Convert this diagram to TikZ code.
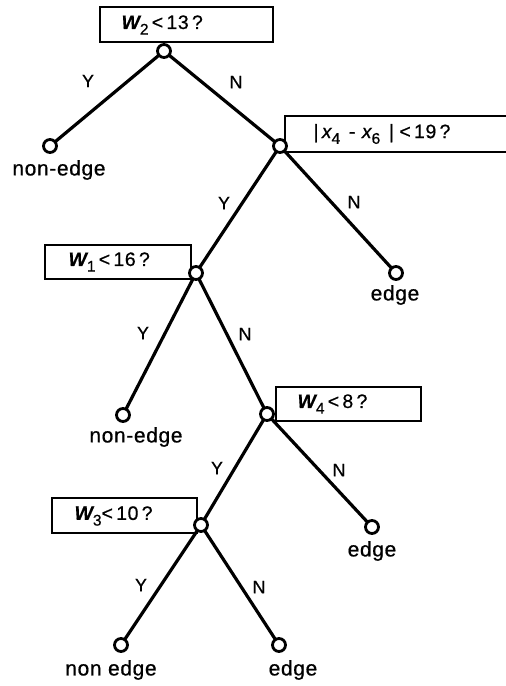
\documentclass[tikz,border=0pt]{standalone}
\usepackage{fontspec}
\setmainfont{Liberation Sans}[UprightFeatures={FakeBold=0.6},ItalicFeatures={FakeBold=0.6},BoldItalicFeatures={FakeBold=0.3},LetterSpace=3]
\begin{document}
\begin{tikzpicture}[x=1pt,y=-1pt,
  dot/.style={circle,draw,fill=white,line width=2.8pt,minimum size=13pt,inner sep=0pt},
  branch/.style={line width=3.2pt},
  qbox/.style={draw,line width=2.5pt},
  yn/.style={font=\fontsize{18}{18}\selectfont},
  leaf/.style={font=\fontsize{21}{21}\selectfont},
  qtext/.style={font=\fontsize{19.5}{19.5}\selectfont,anchor=west}]
\newcommand\subsc[1]{\raisebox{-0.55ex}{\fontsize{15.5}{15.5}\selectfont #1}}
\newcommand\bw{{\bfseries\itshape W}}
\useasboundingbox (0,0) rectangle (506,686);
% boxes
\draw[qbox] (100,7) rectangle (273,42);
\draw[qbox] (520,116) -- (285,116) -- (285,152) -- (520,152);
\draw[qbox] (45,245) rectangle (191,279);
\draw[qbox] (276,387) rectangle (421,421);
\draw[qbox] (52,498) rectangle (197,533);
% box texts
\node[qtext] (t1) at (118,25) {\bw\subsc{2}\,<\,13\,?};
\node[qtext] (t2) at (310,134) {\textbar\,{\itshape x}\subsc{4}\;\,-\,\,{\itshape x}\subsc{6}\;\,\textbar\;<\,19\,?};
\node[qtext] (t3) at (65,262) {\bw\subsc{1}\,<\,16\,?};
\node[qtext] (t4) at (294,404) {\bw\subsc{4}\,<\,8\,?};
\node[qtext] (t5) at (71,516) {\bw\subsc{3}<\,10\,?};
% decision/leaf circles
\coordinate (a) at (164,51);
\coordinate (b) at (50,146);
\coordinate (c) at (280,146);
\coordinate (d) at (196,273);
\coordinate (e) at (396,273);
\coordinate (f) at (123,415);
\coordinate (g) at (267,414);
\coordinate (h) at (201,525);
\coordinate (i) at (372,527);
\coordinate (j) at (121,645);
\coordinate (k) at (279,645);
\draw[branch] (a) -- (b);
\draw[branch] (a) -- (c);
\draw[branch] (c) -- (d);
\draw[branch] (c) -- (e);
\draw[branch] (d) -- (f);
\draw[branch] (d) -- (g);
\draw[branch] (g) -- (h);
\draw[branch] (g) -- (i);
\draw[branch] (h) -- (j);
\draw[branch] (h) -- (k);
\foreach \p in {a,b,c,d,e,f,g,h,i,j,k} \node[dot] (n\p) at (\p) {};
% Y / N labels
\node[yn] (y1) at (88,81) {Y};
\node[yn] (n1) at (236,82) {N};
\node[yn] (y2) at (224,203) {Y};
\node[yn] (n2) at (354,202) {N};
\node[yn] (y3) at (143,333) {Y};
\node[yn] (n3) at (245,334) {N};
\node[yn] (y4) at (217,468) {Y};
\node[yn] (n4) at (339,470) {N};
\node[yn] (y5) at (141,585) {Y};
\node[yn] (n5) at (259,587) {N};
% leaf labels
\node[leaf] (l1) at (59,170) {non-edge};
\node[leaf] (l2) at (395,295) {edge};
\node[leaf] (l3) at (136,437) {non-edge};
\node[leaf] (l4) at (372,551) {edge};
\node[leaf] (l5) at (111,670) {non edge};
\node[leaf] (l6) at (293,670) {edge};
\end{tikzpicture}
\end{document}
